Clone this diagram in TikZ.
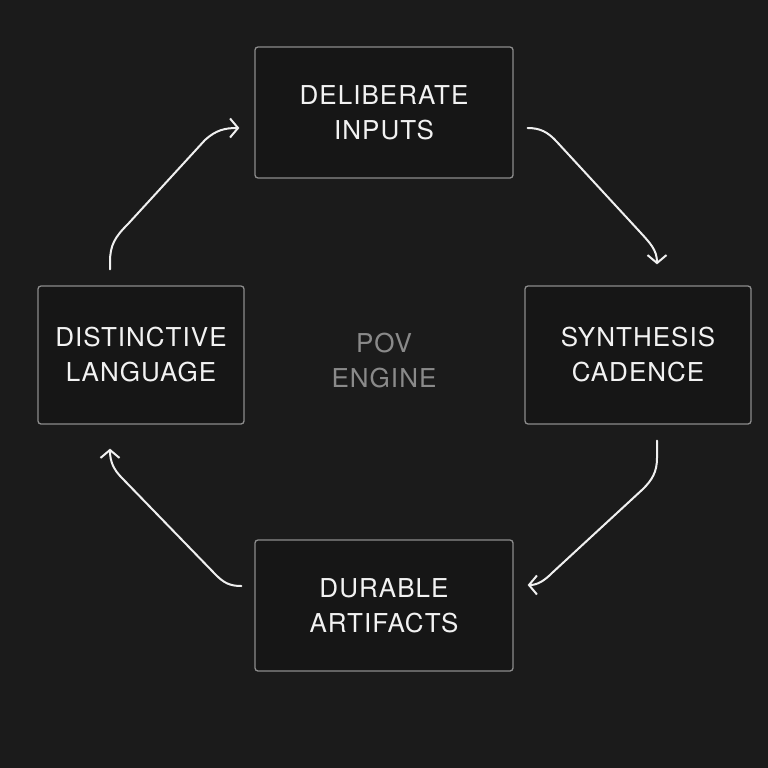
\documentclass[tikz,border=0pt]{standalone}
\usepackage{fontspec}
\setmainfont[LetterSpace=4]{TeX Gyre Heros}
\usetikzlibrary{arrows.meta}
\definecolor{bgc}{HTML}{1B1B1B}
\definecolor{boxfill}{HTML}{161616}
\definecolor{boxline}{HTML}{8C8C8C}
\definecolor{txt}{HTML}{F2F2F2}
\definecolor{dimtxt}{HTML}{8A8A8A}
\tikzset{
  stagebox/.style={draw=boxline, line width=1.3pt, fill=boxfill, rounded corners=3pt,
    text=txt, align=center, inner sep=0pt, font=\fontsize{26}{35}\selectfont},
  flow/.style={draw=white!94!black, line width=2pt, line cap=round,
    -{Straight Barb[length=8pt,width=19pt,line width=2pt]}},
  centerlabel/.style={text=dimtxt, align=center, font=\fontsize{26}{35}\selectfont}
}
\begin{document}
\begin{tikzpicture}[x=1pt,y=-1pt]
\fill[bgc] (0,0) rectangle (768,768);
\useasboundingbox (0,0) rectangle (768,768);

\node[stagebox, minimum width=258pt, minimum height=131pt] (inputs) at (384,112.5) {DELIBERATE\\INPUTS};
\node[stagebox, minimum width=226pt, minimum height=138pt] (synth) at (638,355) {SYNTHESIS\\CADENCE};
\node[stagebox, minimum width=258pt, minimum height=131pt] (artifacts) at (384,605.5) {DURABLE\\ARTIFACTS};
\node[stagebox, minimum width=206pt, minimum height=138pt] (language) at (141,355) {DISTINCTIVE\\LANGUAGE};
\node[centerlabel] (pov) at (384,361) {POV\\ENGINE};

% endpoints tied to the boxes
\coordinate (a1s) at ([xshift=-31pt,yshift=16pt]language.north);
\coordinate (a1e) at ([xshift=-15pt,yshift=-15.5pt]inputs.west);
\coordinate (a2s) at ([xshift=14pt,yshift=-15.5pt]inputs.east);
\coordinate (a2e) at ([xshift=19pt,yshift=21pt]synth.north);
\coordinate (a3s) at ([xshift=19pt,yshift=-16pt]synth.south);
\coordinate (a3e) at ([xshift=14pt,yshift=20.5pt]artifacts.east);
\coordinate (a4s) at ([xshift=-13pt,yshift=19.5pt]artifacts.west);
\coordinate (a4e) at ([xshift=-31pt,yshift=-24pt]language.south);

\draw[flow] (a1s) -- (110,262) .. controls (110,245) and (115,237) .. (128,224)
  -- (205,140) .. controls (216,130) and (225,128) .. (a1e);
\draw[flow] (a2s) .. controls (540,128) and (548,132) .. (557,142)
  -- (640,232) .. controls (650,243) and (657,250) .. (a2e);
\draw[flow] (a3s) -- (657,458) .. controls (657,472) and (652,480) .. (643,489)
  -- (552,573) .. controls (545,580) and (538,585) .. (a3e);
\draw[flow] (a4s) .. controls (230,586) and (224,583) .. (216,575)
  -- (122,478) .. controls (114,470) and (110,462) .. (a4e);
\end{tikzpicture}
\end{document}
